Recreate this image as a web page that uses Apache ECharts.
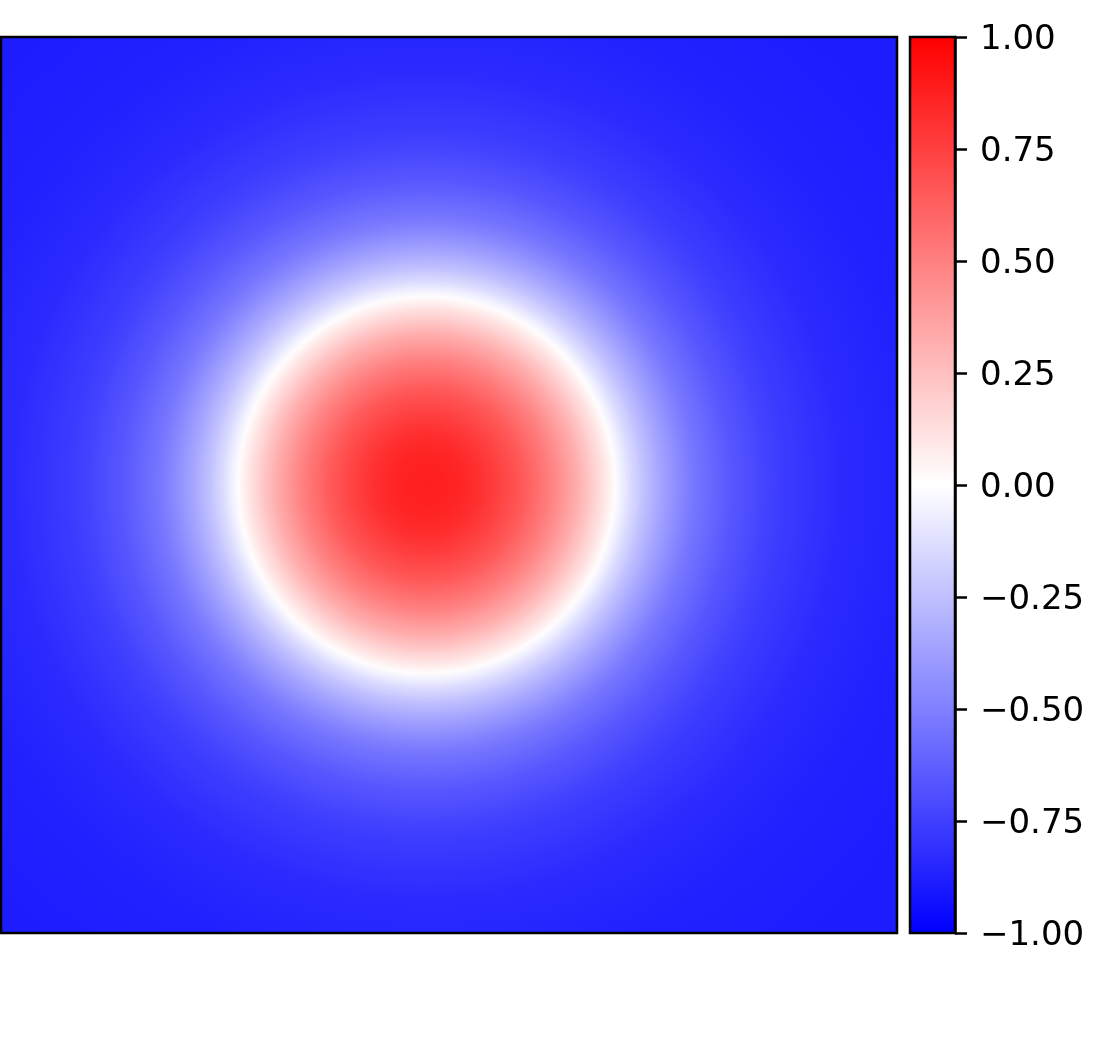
<!DOCTYPE html>
<html>
<head>
<meta charset="utf-8">
<script src="https://cdn.jsdelivr.net/npm/echarts@6/dist/echarts.min.js"></script>
<style>
html,body{margin:0;padding:0;background:#fff;}
#chart{width:1114px;height:1050px;}
</style>
</head>
<body>
<div id="chart"></div>
<script>
// Field centre (data units, domain 0..100 on both axes)
const CENTER_X = 47.5;
const CENTER_Y = 50;
// Radial profile: radius (data units) and field value
const RADII = [0, 2, 4, 6, 8, 10, 11, 12, 13, 14, 15, 16, 16.5, 17, 17.5, 18, 18.5, 19, 19.5, 20, 20.5, 21,
  21.5, 22, 22.5, 23, 23.5, 24, 25, 26, 27, 28, 29, 30, 31, 32, 34, 36, 38, 40, 43, 46, 50, 55, 60, 66, 76];
const VALUES = [0.88, 0.87, 0.85, 0.81, 0.75, 0.68, 0.64, 0.59, 0.54, 0.49, 0.43, 0.37, 0.34, 0.31, 0.27, 0.24, 0.20, 0.16, 0.13, 0.09, 0.05, 0.01,
  -0.04, -0.08, -0.12, -0.16, -0.19, -0.23, -0.29, -0.35, -0.40, -0.45, -0.50, -0.54, -0.57, -0.60, -0.66, -0.70, -0.74, -0.77, -0.80, -0.83, -0.85, -0.87, -0.88, -0.89, -0.89];
// Colour bar
const CBAR_MIN = -1, CBAR_MAX = 1, CBAR_STEP = 0.25;
const BWR = ['#0000ff', '#ffffff', '#ff0000'];

// Build ring items: [radius, value, innerRadius, innerValue], drawn largest first
const rings = [];
for (let i = RADII.length - 1; i >= 1; i--) {
  rings.push([RADII[i], VALUES[i], RADII[i - 1], VALUES[i - 1]]);
}
function colorOf(v) {
  const t = Math.max(0, Math.min(1, (v - CBAR_MIN) / (CBAR_MAX - CBAR_MIN)));
  return echarts.color.lerp(t, BWR);
}

const chart = echarts.init(document.getElementById('chart'), null, {renderer: 'canvas'});
const FONT = 'DejaVu Sans';
const MAIN = {left: 1, top: 37, width: 896, height: 896};
const CBAR = {left: 910, top: 37, width: 45, height: 896};
chart.setOption({
  animation: false,
  backgroundColor: '#ffffff',
  grid: [
    Object.assign({}, MAIN),
    Object.assign({}, CBAR)
  ],
  xAxis: [
    {type: 'value', gridIndex: 0, min: 0, max: 100, show: false},
    {type: 'value', gridIndex: 1, min: 0, max: 1, show: false}
  ],
  yAxis: [
    {type: 'value', gridIndex: 0, min: 0, max: 100, show: false},
    {type: 'value', gridIndex: 1, min: CBAR_MIN, max: CBAR_MAX, interval: CBAR_STEP, position: 'right',
     z: 11,
     axisLine: {show: true, onZero: false, lineStyle: {color: '#000', width: 2.5}},
     axisTick: {show: true, inside: false, length: 12, lineStyle: {color: '#000', width: 2.5}},
     splitLine: {show: false},
     axisLabel: {show: true, margin: 25, color: '#000', fontSize: 34, fontFamily: FONT,
       showMinLabel: true, showMaxLabel: true,
       formatter: v => '{t|' + v.toFixed(2).replace('-', '\u2212') + '}',
       rich: {t: {fontSize: 34, fontFamily: FONT, color: '#000', padding: [7, 0, 0, 0]}}}}
  ],
  visualMap: {
    type: 'continuous', min: CBAR_MIN, max: CBAR_MAX, seriesIndex: 0, dimension: 1,
    calculable: false, hoverLink: false, orient: 'vertical',
    left: CBAR.left, top: CBAR.top, itemWidth: CBAR.width, itemHeight: CBAR.height, padding: 0,
    text: null, showLabel: false,
    inRange: {color: BWR}
  },
  graphic: [
    {type: 'rect', z: 100, silent: true,
     shape: {x: MAIN.left, y: MAIN.top, width: MAIN.width, height: MAIN.height},
     style: {fill: null, stroke: '#000', lineWidth: 2.5}},
    {type: 'rect', z: 100, silent: true,
     shape: {x: CBAR.left, y: CBAR.top, width: CBAR.width, height: CBAR.height},
     style: {fill: null, stroke: '#000', lineWidth: 2.5}}
  ],
  series: [{
    type: 'custom',
    coordinateSystem: 'cartesian2d',
    xAxisIndex: 0, yAxisIndex: 0,
    clip: true,
    silent: true,
    data: rings,
    renderItem: function (params, api) {
      const c = api.coord([CENTER_X, CENTER_Y]);
      const r = api.size([api.value(0), 0])[0];
      const rIn = api.size([api.value(2), 0])[0];
      const cs = params.coordSys;
      return {
        type: 'circle',
        shape: {cx: c[0], cy: c[1], r: r},
        clipPath: {type: 'rect', shape: {x: cs.x, y: cs.y, width: cs.width, height: cs.height}},
        style: {
          fill: {
            type: 'radial', x: 0.5, y: 0.5, r: 0.5, global: false,
            colorStops: [
              {offset: rIn / r, color: colorOf(api.value(3))},
              {offset: 1, color: api.visual('color') || colorOf(api.value(1))}
            ]
          },
          stroke: null
        }
      };
    }
  }]
});
</script>
</body>
</html>
